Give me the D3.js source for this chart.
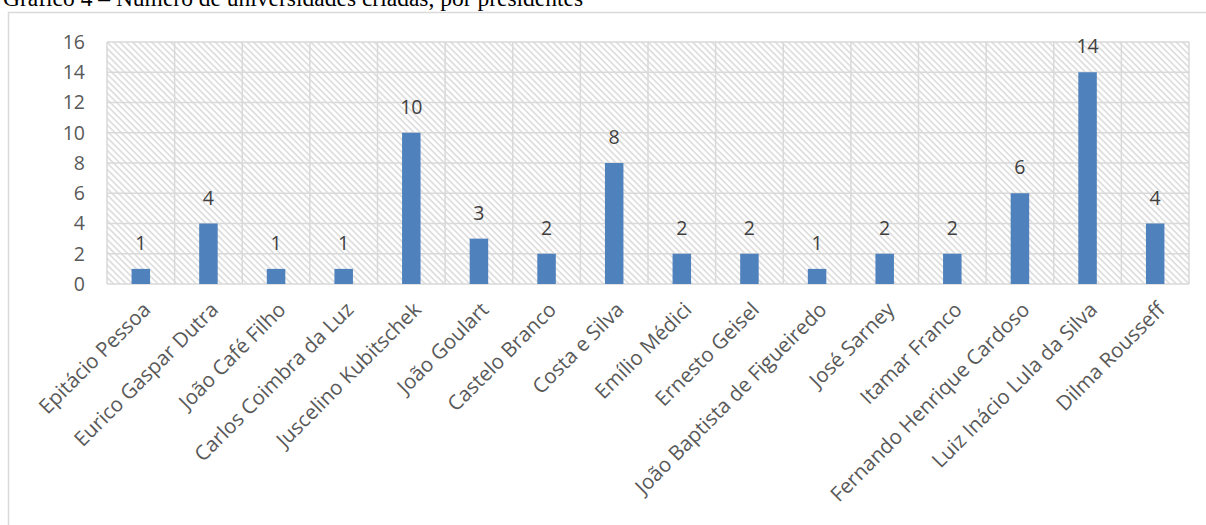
<!DOCTYPE html>
<html><head><meta charset="utf-8">
<script src="https://cdn.jsdelivr.net/npm/d3@7/dist/d3.min.js"></script>
<style>body{margin:0;background:#fff}svg{display:block}</style>
</head><body>
<svg id="c" width="1206" height="525"></svg>
<script>
const categories = ["Epitácio Pessoa","Eurico Gaspar Dutra","João Café Filho","Carlos Coimbra da Luz","Juscelino Kubitschek","João Goulart","Castelo Branco","Costa e Silva","Emílio Médici","Ernesto Geisel","João Baptista de Figueiredo","José Sarney","Itamar Franco","Fernando Henrique Cardoso","Luiz Inácio Lula da Silva","Dilma Rousseff"];
const values = [1,4,1,1,10,3,2,8,2,2,1,2,2,6,14,4];
const yTicks = [0,2,4,6,8,10,12,14,16];
const title = "Gráfico 4 – Número de universidades criadas, por presidentes";

const svg = d3.select("#c");
const W = 1206, H = 525;
const m = {left:107, right:1189, top:42, bottom:284};

const defs = svg.append("defs");
const pat = defs.append("pattern").attr("id","hatch").attr("patternUnits","userSpaceOnUse")
  .attr("width",4.5).attr("height",4.5).attr("patternTransform","rotate(-45)");
pat.append("rect").attr("width",4.5).attr("height",4.5).attr("fill","#fff");
pat.append("line").attr("x1",1).attr("y1",0).attr("x2",1).attr("y2",4.5)
  .attr("stroke","#d4d4d4").attr("stroke-width",1.3);

// title
svg.append("text").attr("x",3).attr("y",5.5).attr("font-family","'Liberation Serif','Times New Roman',serif")
  .attr("font-size",23.5).attr("fill","#000").text(title);

// frame
svg.append("path").attr("d",`M${W+1},12.5 H8.5 V${H+1}`).attr("fill","none").attr("stroke","#d9d9d9").attr("stroke-width",1.5);

const x = d3.scaleBand().domain(categories).range([m.left,m.right]).paddingInner(0).paddingOuter(0);
const y = d3.scaleLinear().domain([0,16]).range([m.bottom,m.top]);

// hatched plot background
svg.append("rect").attr("x",m.left).attr("y",m.top).attr("width",m.right-m.left).attr("height",m.bottom-m.top).attr("fill","url(#hatch)");

// horizontal grid
svg.append("g").selectAll("line").data(yTicks).join("line")
  .attr("x1",m.left).attr("x2",m.right).attr("y1",d=>y(d)).attr("y2",d=>y(d))
  .attr("stroke","#d9d9d9").attr("stroke-width",1.5);
// vertical grid
const vx = categories.map(c=>x(c)).concat([m.right]);
svg.append("g").selectAll("line").data(vx).join("line")
  .attr("x1",d=>d).attr("x2",d=>d).attr("y1",m.top).attr("y2",m.bottom)
  .attr("stroke","#d9d9d9").attr("stroke-width",1.5);

// y axis labels
const yAxis = d3.axisLeft(y).tickValues(yTicks).tickSize(0).tickPadding(0);
const ga = svg.append("g").attr("transform",`translate(${m.left-22},0)`).call(yAxis);
ga.select(".domain").remove();
ga.selectAll("text").attr("font-family","'Open Sans',sans-serif").attr("font-size",19.5).attr("fill","#595959");

// bars
const bw = 18.5;
svg.append("g").selectAll("rect").data(values).join("rect")
  .attr("x",(d,i)=>x(categories[i])+x.bandwidth()/2-bw/2)
  .attr("width",bw)
  .attr("y",d=>y(d)).attr("height",d=>y(0)-y(d))
  .attr("fill","#4f81bd");

// data labels
svg.append("g").selectAll("text").data(values).join("text")
  .attr("x",(d,i)=>x(categories[i])+x.bandwidth()/2)
  .attr("y",d=>y(d)-19)
  .attr("text-anchor","middle").attr("font-family","'Open Sans',sans-serif").attr("font-size",19.5).attr("fill","#404040")
  .text(d=>d);

// x axis labels
const xAxis = d3.axisBottom(x).tickSize(0).tickPadding(0);
const gx = svg.append("g").attr("transform",`translate(0,${m.bottom})`).call(xAxis);
gx.select(".domain").remove();
gx.selectAll("text").attr("font-family","'Open Sans',sans-serif").attr("font-size",20.5).attr("fill","#595959")
  .attr("text-anchor","end").attr("dy",null).attr("y",0)
  .attr("transform","translate(11,27) rotate(-45)");
</script>
</body></html>
